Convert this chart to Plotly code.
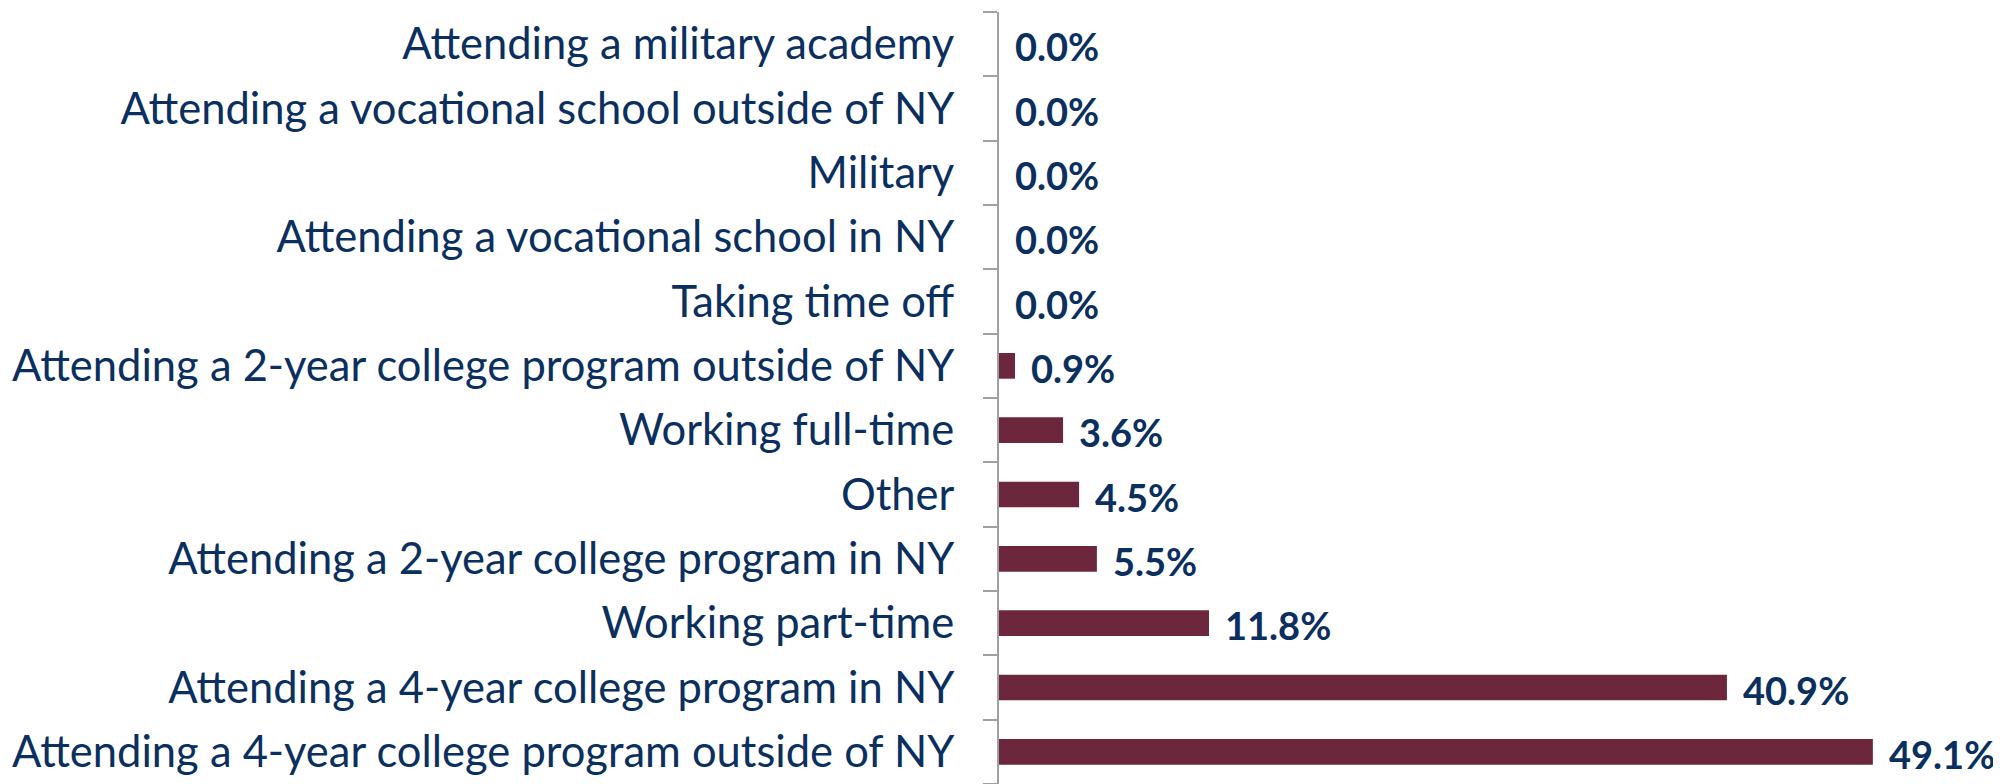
import plotly.graph_objects as go

categories = [
    "Attending a 4-year college program outside of NY",
    "Attending a 4-year college program in NY",
    "Working part-time",
    "Attending a 2-year college program in NY",
    "Other",
    "Working full-time",
    "Attending a 2-year college program outside of NY",
    "Taking time off",
    "Attending a vocational school in NY",
    "Military",
    "Attending a vocational school outside of NY",
    "Attending a military academy",
]
values = [49.1, 40.9, 11.8, 5.5, 4.5, 3.6, 0.9, 0.0, 0.0, 0.0, 0.0, 0.0]

BAR = "#6C273D"
NAVY = "#0B2F5E"
FONT = "Lato"

fig = go.Figure(go.Bar(
    x=values, y=categories, orientation="h",
    marker=dict(color=BAR, line=dict(width=0)),
    width=0.4,
    hoverinfo="skip",
))

for v, c in zip(values, categories):
    fig.add_annotation(
        x=v, y=c, text=f"{v:.1f}%", showarrow=False,
        xanchor="left", yanchor="middle", xshift=14, yshift=-2,
        font=dict(family=FONT, size=38, color=NAVY, weight="bold"),
    )

# page body has an 8px margin; figure sized to fit the 2001x784 viewport
fig.update_layout(
    width=1993, height=776,
    margin=dict(l=991, r=0, t=4, b=0),
    paper_bgcolor="white", plot_bgcolor="white",
    showlegend=False,
    xaxis=dict(range=[0, 56.3], visible=False, fixedrange=True),
    yaxis=dict(
        categoryorder="array", categoryarray=categories,
        range=[-0.5, 11.5],
        showline=True, linecolor="#A0A0A0", linewidth=2,
        ticks="outside", tickson="boundaries", ticklen=14,
        tickcolor="#A0A0A0", tickwidth=2,
        showgrid=False, zeroline=False,
        tickfont=dict(family=FONT, size=43.5, color=NAVY),
        ticklabelstandoff=34,
    ),
)

fig.write_html("out.html")
